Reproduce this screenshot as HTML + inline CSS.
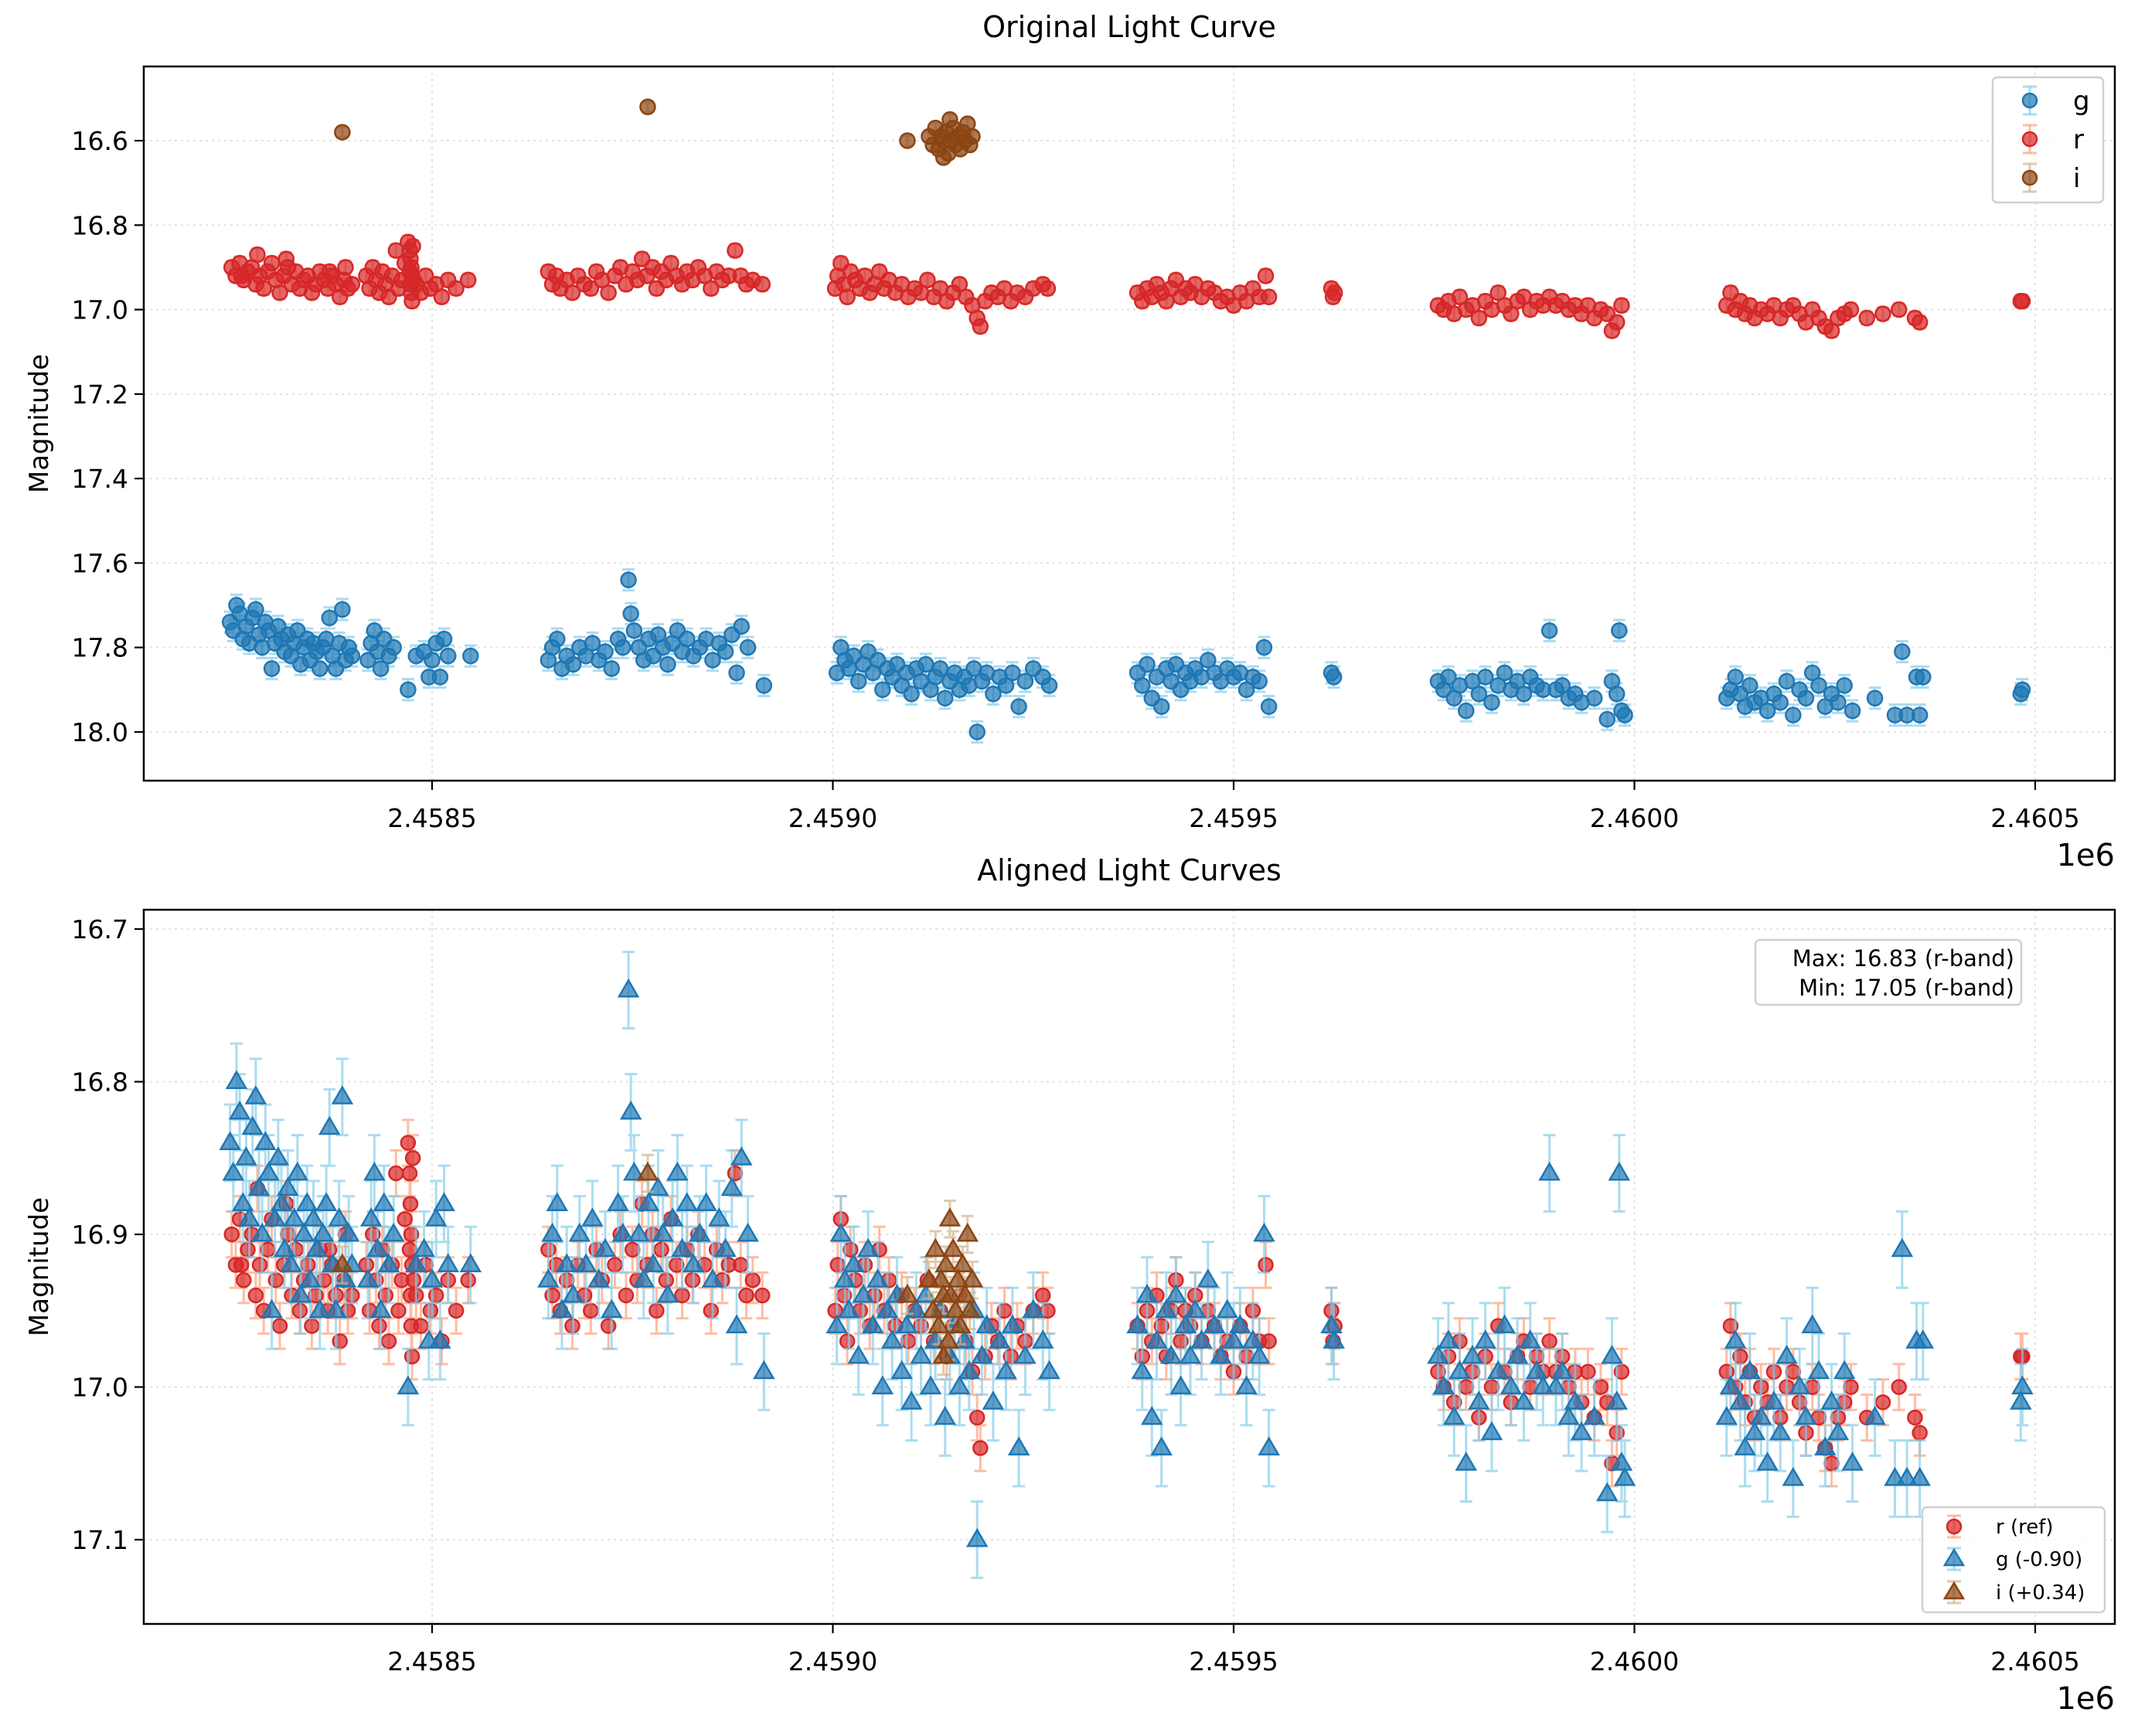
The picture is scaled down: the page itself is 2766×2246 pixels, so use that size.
<!DOCTYPE html>
<html><head><meta charset="utf-8"><title>Light Curves</title>
<style>body{margin:0;background:#fff}svg{display:block;font-family:"DejaVu Sans","Liberation Sans",sans-serif}</style></head>
<body>
<svg id="chart" width="2766" height="2246" viewBox="0 0 2766 2246" xmlns="http://www.w3.org/2000/svg">
<rect width="2766" height="2246" fill="#fff"/>
<g id="topPanel"></g><g id="botPanel"></g>
</svg>
<script>
// data: t = JD - 2458000, magnitude
const rT=[250,255,260,265,270,275,280,285,290,295,300,305,310,315,320,325,330,335,340,345,350,355,360,365,370,375,380,385,390,395,400,282,262,318,372,392,
418,422,426,430,434,438,442,446,450,455,458,462,466,470,472,473,474,475,473,474,475,472,476,477,480,486,492,498,505,512,520,530,545,
645,650,655,660,668,675,682,690,698,705,712,720,728,735,742,750,756,762,768,775,780,786,792,798,805,812,818,825,832,840,848,855,862,870,878,885,892,900,912,
1003,1006,1010,1014,1018,1022,1028,1034,1040,1046,1052,1058,1064,1070,1078,1086,1094,1102,1110,1118,1126,1134,1142,1150,1158,1166,1174,1180,1184,1190,1198,1206,1214,1222,1230,1240,1250,1262,1268,
1380,1386,1392,1398,1404,1410,1416,1422,1428,1434,1440,1446,1452,1460,1468,1476,1484,1492,1500,1508,1516,1524,1532,1540,1544,1622,1624,1626,
1755,1762,1768,1775,1782,1790,1798,1806,1814,1822,1830,1838,1846,1854,1862,1870,1878,1886,1894,1902,1910,1918,1926,1934,1942,1950,1958,1966,1972,1978,1984,
2115,2120,2126,2132,2138,2144,2150,2158,2166,2174,2182,2190,2198,2206,2214,2222,2230,2238,2246,2254,2262,2270,2290,2310,2330,2350,2356,2482,2484];
const rM=[16.90,16.92,16.89,16.93,16.91,16.90,16.94,16.92,16.95,16.91,16.89,16.93,16.96,16.92,16.90,16.94,16.91,16.95,16.93,16.92,16.96,16.94,16.91,16.93,16.95,16.92,16.94,16.97,16.93,16.95,16.94,16.87,16.92,16.88,16.91,16.90,
16.92,16.95,16.90,16.93,16.96,16.91,16.94,16.97,16.92,16.86,16.95,16.93,16.89,16.84,16.86,16.88,16.90,16.92,16.94,16.96,16.98,16.91,16.85,16.93,16.94,16.96,16.92,16.95,16.94,16.97,16.93,16.95,16.93,
16.91,16.94,16.92,16.95,16.93,16.96,16.92,16.94,16.95,16.91,16.93,16.96,16.92,16.90,16.94,16.91,16.93,16.88,16.92,16.90,16.95,16.91,16.93,16.89,16.92,16.94,16.91,16.93,16.90,16.92,16.95,16.91,16.93,16.92,16.86,16.92,16.94,16.93,16.94,
16.95,16.92,16.89,16.94,16.97,16.91,16.93,16.95,16.92,16.96,16.94,16.91,16.95,16.93,16.96,16.94,16.97,16.95,16.96,16.93,16.97,16.95,16.98,16.96,16.94,16.97,16.99,17.02,17.04,16.98,16.96,16.97,16.95,16.98,16.96,16.97,16.95,16.94,16.95,
16.96,16.98,16.95,16.97,16.94,16.96,16.98,16.95,16.93,16.97,16.95,16.96,16.94,16.97,16.95,16.96,16.98,16.97,16.99,16.96,16.98,16.95,16.97,16.92,16.97,16.95,16.97,16.96,
16.99,17.00,16.98,17.01,16.97,17.00,16.99,17.02,16.98,17.00,16.96,16.99,17.01,16.98,16.97,17.00,16.98,16.99,16.97,16.99,16.98,17.00,16.99,17.01,16.99,17.02,17.00,17.01,17.05,17.03,16.99,
16.99,16.96,17.00,16.98,17.01,16.99,17.02,17.00,17.01,16.99,17.02,17.00,16.99,17.01,17.03,17.00,17.02,17.04,17.05,17.02,17.01,17.00,17.02,17.01,17.00,17.02,17.03,16.98,16.98];
const gT=[248,252,256,260,264,268,272,276,280,284,288,292,296,300,304,308,312,316,320,324,328,332,336,340,344,348,352,356,360,364,368,372,376,380,384,388,392,396,400,
420,424,428,432,436,440,446,452,470,480,490,496,500,505,510,515,520,548,
645,650,656,662,668,676,684,692,700,708,716,724,732,738,745,748,752,758,764,770,776,782,788,794,800,806,812,818,826,834,842,850,858,866,874,880,886,894,914,
1005,1010,1015,1020,1026,1032,1038,1044,1050,1056,1062,1068,1074,1080,1086,1092,1098,1104,1110,1116,1122,1128,1134,1140,1146,1152,1158,1164,1170,1176,1180,1186,1192,1200,1208,1216,1224,1232,1240,1250,1262,1270,
1380,1386,1392,1398,1404,1410,1416,1422,1428,1434,1440,1446,1452,1460,1468,1476,1484,1492,1500,1508,1516,1524,1532,1538,1544,1622,1625,
1755,1762,1768,1775,1782,1790,1798,1806,1814,1822,1830,1838,1846,1854,1862,1870,1878,1886,1894,1902,1910,1918,1926,1934,1950,1966,1972,1978,1981,1984,1988,
2115,2120,2126,2132,2138,2144,2150,2158,2166,2174,2182,2190,2198,2206,2214,2222,2230,2238,2246,2254,2262,2272,2300,2325,2334,2340,2352,2356,2360,2482,2484];
const gM=[17.74,17.76,17.70,17.72,17.78,17.75,17.79,17.73,17.71,17.77,17.80,17.74,17.76,17.85,17.79,17.75,17.78,17.81,17.77,17.82,17.79,17.76,17.84,17.80,17.78,17.83,17.79,17.81,17.85,17.80,17.78,17.73,17.82,17.85,17.79,17.71,17.83,17.80,17.82,
17.83,17.79,17.76,17.81,17.85,17.78,17.82,17.80,17.90,17.82,17.81,17.87,17.83,17.79,17.87,17.78,17.82,17.82,
17.83,17.80,17.78,17.85,17.82,17.84,17.80,17.82,17.79,17.83,17.81,17.85,17.78,17.80,17.64,17.72,17.76,17.80,17.83,17.78,17.82,17.77,17.80,17.84,17.79,17.76,17.81,17.78,17.82,17.80,17.78,17.83,17.79,17.81,17.77,17.86,17.75,17.80,17.89,
17.86,17.80,17.83,17.85,17.82,17.88,17.84,17.81,17.86,17.83,17.90,17.85,17.87,17.84,17.89,17.86,17.91,17.85,17.88,17.84,17.90,17.87,17.85,17.92,17.88,17.86,17.90,17.87,17.89,17.85,18.00,17.88,17.86,17.91,17.87,17.89,17.86,17.94,17.88,17.85,17.87,17.89,
17.86,17.89,17.84,17.92,17.87,17.94,17.85,17.88,17.84,17.90,17.86,17.88,17.85,17.87,17.83,17.86,17.88,17.85,17.87,17.86,17.90,17.87,17.88,17.80,17.94,17.86,17.87,
17.88,17.90,17.87,17.92,17.89,17.95,17.88,17.91,17.87,17.93,17.89,17.86,17.90,17.88,17.91,17.87,17.89,17.90,17.76,17.90,17.89,17.92,17.91,17.93,17.92,17.97,17.88,17.91,17.76,17.95,17.96,
17.92,17.90,17.87,17.91,17.94,17.89,17.93,17.92,17.95,17.91,17.93,17.88,17.96,17.90,17.92,17.86,17.89,17.94,17.91,17.93,17.89,17.95,17.92,17.96,17.81,17.96,17.87,17.96,17.87,17.91,17.90];
const iT=[388,769,1093,1120,1125,1128,1132,1135,1138,1141,1144,1147,1150,1153,1156,1159,1162,1165,1168,1171,1174,1138,1146];
const iM=[16.58,16.52,16.60,16.59,16.61,16.57,16.62,16.59,16.60,16.58,16.63,16.60,16.57,16.61,16.59,16.62,16.58,16.60,16.56,16.61,16.59,16.64,16.55];
const bandErr=[0.015,0.025,0.012]; // r, g, i
const offsets=[0,-0.90,0.34];      // r, g, i alignment
const xTicks=[500,1000,1500,2000,2500];
const xTickLabels=["2.4585","2.4590","2.4595","2.4600","2.4605"];
const topYTicks=[16.6,16.8,17.0,17.2,17.4,17.6,17.8,18.0];
const botYTicks=[16.7,16.8,16.9,17.0,17.1];

const NS="http://www.w3.org/2000/svg";
const AL=186,AR=2736;
const xs=t=>559+(t-500)*1.037;
const yTop=m=>182+(m-16.6)*546.4;
const yBot=m=>1202+(m-16.7)*1975;
function mk(tag,attrs,parent,txt){const e=document.createElementNS(NS,tag);for(const k in attrs)e.setAttribute(k,attrs[k]);if(txt!==undefined)e.textContent=txt;parent.appendChild(e);return e;}

function axes(g,y0,y1,ys,yTicks,dec,title,tname){
  const grid=mk('g',{},g);
  
  
  xTicks.forEach(t=>mk('line',{x1:xs(t),x2:xs(t),y1:y0,y2:y1,stroke:'#e2e2e2','stroke-width':2,'stroke-dasharray':'3,5'},grid));
  yTicks.forEach(v=>mk('line',{x1:AL,x2:AR,y1:ys(v),y2:ys(v),stroke:'#e2e2e2','stroke-width':2,'stroke-dasharray':'3,5'},grid));
  const ax=mk('g',{},g);
  
  
  xTicks.forEach((t,i)=>{
    mk('line',{x1:xs(t),x2:xs(t),y1:y1,y2:y1+12,stroke:'#000','stroke-width':2.2},ax);
    const tx=mk('text',{x:xs(t),y:y1+60,'font-size':33,'text-anchor':'middle'},ax,xTickLabels[i]);
    
    
  });
  yTicks.forEach(v=>{
    mk('line',{x1:AL-12,x2:AL,y1:ys(v),y2:ys(v),stroke:'#000','stroke-width':2.2},ax);
    const tx=mk('text',{x:AL-20,y:ys(v)+12,'font-size':33,'text-anchor':'end'},ax,v.toFixed(dec));
    
    
  });
  const off=mk('text',{x:AR,y:y1+110,'font-size':40,'text-anchor':'end'},ax,'1e6');
  
  
  const cy=(y0+y1)/2;
  const yl=mk('text',{x:62,y:cy,'font-size':34,'text-anchor':'middle',transform:'rotate(-90 62 '+cy+')'},ax,'Magnitude');
  
  
  const ti=mk('text',{x:(AL+AR)/2,y:y0-38,'font-size':38,'text-anchor':'middle'},ax,title);
  
  
  return ax;
}
function series(g,T,M,err,off,ys,col,ecol,shape,name,r){
  const s=mk('g',{},g);
  
  
  const eb=mk('g',{stroke:ecol,'stroke-width':3,opacity:0.7},s);
  const mg=mk('g',{fill:col,'fill-opacity':0.7,stroke:col,'stroke-width':2.5},s);
  T.forEach((t,i)=>{
    const x=xs(t),m=M[i]+off,y=ys(m),ya=ys(m-err),yb=ys(m+err);
    mk('line',{x1:x,x2:x,y1:ya,y2:yb},eb);
    mk('line',{x1:x-8,x2:x+8,y1:ya,y2:ya},eb);
    mk('line',{x1:x-8,x2:x+8,y1:yb,y2:yb},eb);
    let p;
    if(shape==='c') p=mk('circle',{cx:x,cy:y,r:r},mg);
    else p=mk('polygon',{points:x+','+(y-r*1.15)+' '+(x-r*1.1)+','+(y+r*0.75)+' '+(x+r*1.1)+','+(y+r*0.75)},mg);
    
    
  });
}
function legend(g,x0,y0,w,h,items,fs,mx,tx,name){
  const lg=mk('g',{},g);
  
  
  mk('rect',{x:x0,y:y0,width:w,height:h,rx:6,fill:'#fff','fill-opacity':0.8,stroke:'#d0d0d0','stroke-width':2.5},lg);
  items.forEach(it=>{
    const e=mk('g',{},lg);
    
    
    mk('line',{x1:mx,x2:mx,y1:it.y-it.eh,y2:it.y+it.eh,stroke:it.ec,'stroke-width':3,opacity:0.7},e);
    mk('line',{x1:mx-9,x2:mx+9,y1:it.y-it.eh,y2:it.y-it.eh,stroke:it.ec,'stroke-width':3,opacity:0.7},e);
    mk('line',{x1:mx-9,x2:mx+9,y1:it.y+it.eh,y2:it.y+it.eh,stroke:it.ec,'stroke-width':3,opacity:0.7},e);
    if(it.s==='c') mk('circle',{cx:mx,cy:it.y,r:9,fill:it.c,'fill-opacity':0.7,stroke:it.c,'stroke-width':2.5},e);
    else mk('polygon',{points:mx+','+(it.y-12)+' '+(mx-12)+','+(it.y+8)+' '+(mx+12)+','+(it.y+8),fill:it.c,'fill-opacity':0.7,stroke:it.c,'stroke-width':2.5},e);
    mk('text',{x:tx,y:it.y+fs*0.35,'font-size':fs},e,it.t);
  });
}
const CG='#1f77b4',CR='#d62728',CI='#8b4513',GE='#87ceeb',RE='#ffa07a',IE='#d2b48c';
// top panel
const topPanel=document.getElementById('topPanel');


axes(topPanel,86,1010,yTop,topYTicks,1,'Original Light Curve','top');
series(topPanel,gT,gM,bandErr[1],0,yTop,CG,GE,'c','g-band-series',9.5);
series(topPanel,rT,rM,bandErr[0],0,yTop,CR,RE,'c','r-band-series',9.5);
series(topPanel,iT,iM,bandErr[2],0,yTop,CI,IE,'c','i-band-series',9.5);
mk('rect',{x:AL,y:86,width:AR-AL,height:924,fill:'none',stroke:'#000','stroke-width':2.5},topPanel);
legend(topPanel,2578,100,143,162,[{y:130,c:CG,ec:GE,s:'c',t:'g',eh:18},{y:180,c:CR,ec:RE,s:'c',t:'r',eh:18},{y:230,c:CI,ec:IE,s:'c',t:'i',eh:18}],34,2626,2682,'top-legend');
// bottom panel
const botPanel=document.getElementById('botPanel');


const clip=mk('clipPath',{id:'bc'},botPanel);mk('rect',{x:AL,y:1177,width:AR-AL,height:924},clip);
axes(botPanel,1177,2101,yBot,botYTicks,1,'Aligned Light Curves','bottom');
const bs=mk('g',{'clip-path':'url(#bc)'},botPanel);
series(bs,rT,rM,bandErr[0],offsets[0],yBot,CR,RE,'c','r-ref-series',9);
series(bs,gT,gM,bandErr[1],offsets[1],yBot,CG,GE,'t','g-aligned-series',11);
series(bs,iT,iM,bandErr[2],offsets[2],yBot,CI,IE,'t','i-aligned-series',11);
mk('rect',{x:AL,y:1177,width:AR-AL,height:924,fill:'none',stroke:'#000','stroke-width':2.5},botPanel);
const tb=mk('g',{},botPanel);


mk('rect',{x:2271,y:1216,width:344,height:84,rx:6,fill:'#fff','fill-opacity':0.8,stroke:'#d0d0d0','stroke-width':2.5},tb);
mk('text',{x:2606,y:1250,'font-size':29,'text-anchor':'end'},tb,'Max: 16.83 (r-band)');
mk('text',{x:2606,y:1288,'font-size':29,'text-anchor':'end'},tb,'Min: 17.05 (r-band)');
legend(botPanel,2487,1950,236,136,[{y:1975,c:CR,ec:RE,s:'c',t:'r (ref)',eh:14},{y:2017,c:CG,ec:GE,s:'t',t:'g (-0.90)',eh:14},{y:2060,c:CI,ec:IE,s:'t',t:'i (+0.34)',eh:14}],26,2528,2582,'bottom-legend');
</script>
</body></html>
